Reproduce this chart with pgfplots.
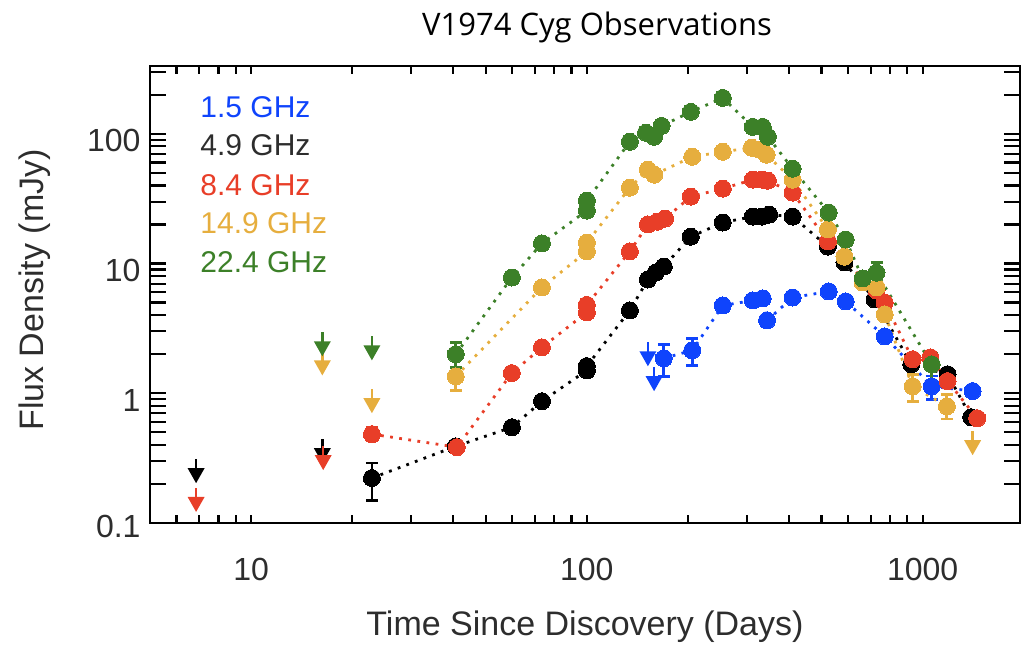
\documentclass[border=0pt]{standalone}
\usepackage{pgfplots}
\pgfplotsset{compat=1.18}
\usepackage{fontspec}
\setmainfont{Liberation Sans}
\newfontfamily\titlefont{Open Sans}
\definecolor{cblue}{RGB}{15,68,252}
\definecolor{cred}{RGB}{232,62,40}
\definecolor{cgold}{RGB}{230,174,62}
\definecolor{cgreen}{RGB}{60,128,40}
\definecolor{cblack}{RGB}{0,0,0}
\definecolor{labgray}{RGB}{45,45,45}
\pgfdeclareplotmark{ul}{%
  \pgfsetlinewidth{1.2pt}%
  \pgfpathmoveto{\pgfqpoint{0pt}{0pt}}%
  \pgfpathlineto{\pgfqpoint{0pt}{5pt}}%
  \pgfusepathqstroke
  \pgfpathmoveto{\pgfqpoint{-4.25pt}{0.5pt}}%
  \pgfpathlineto{\pgfqpoint{4.25pt}{0.5pt}}%
  \pgfpathlineto{\pgfqpoint{0pt}{-7pt}}%
  \pgfpathclose
  \pgfusepathqfill
}
\pgfplotsset{
  series/.style={color=#1, line width=1.4pt, dash pattern=on 1.4pt off 3.2pt,
    mark=*, mark size=4.25pt, mark options={solid, fill=#1, draw=#1, line width=0pt}},
  errs/.style={color=#1, only marks, mark=none,
    error bars/.cd, y dir=both, y explicit,
    error bar style={line width=1.4pt, solid, color=#1},
    error mark options={rotate=90, mark size=3pt, line width=1.4pt, color=#1}},
  uls/.style={color=#1, only marks, mark=ul, mark options={solid, fill=#1, draw=#1}},
}
\begin{document}
\begin{tikzpicture}
\begin{axis}[
  at={(0,0)}, anchor=south west,
  scale only axis, width=435pt, height=228.5pt,
  xmode=log, ymode=log,
  xmin=5, xmax=1950, ymin=0.1, ymax=333,
  axis line style={line width=1.4pt},
  tick align=inside,
  xtick={10,100,1000}, xticklabels={10,100,1000},
  minor xtick={6,7,8,9,20,30,40,50,60,70,80,90,200,300,400,500,600,700,800,900},
  ytick={0.1,1,10,100}, yticklabels={\raisebox{3.5pt}{0.1},1,10,100},
  minor ytick={},
  ytick style={draw=none},
  major tick length=4pt, minor tick length=4pt,
  every tick/.append style={black, line width=1.1pt},
  tick label style={font=\fontsize{16}{16}\selectfont, text=labgray},
  xticklabel style={yshift=-14pt},
  yticklabel style={xshift=-1.2pt, yshift=-3.5pt},
]
% 1.5 GHz
\addplot[series=cblue] coordinates {(169.5,1.86) (206,2.14) (254,4.75) (312,5.19) (334,5.38) (344,3.64) (410,5.47) (525,6.09) (590,5.10) (771,2.74) (1064,1.13) (1409,1.04)};
\addplot[errs=cblue] coordinates {(169.5,1.86) += (0,0.52) -= (0,0.51) (206,2.14) += (0,0.51) -= (0,0.50) (1064,1.13) += (0,0.23) -= (0,0.23)};
\addplot[uls=cblue] coordinates {(152,2.07) (158.6,1.33)};
% 4.9 GHz
\addplot[series=cblack] coordinates {(22.9,0.222) (40.7,0.39) (59.8,0.547) (73.5,0.868) (100,1.50) (100,1.62) (134.3,4.35) (152,7.53) (160.5,8.53) (169.5,9.48) (204,16.1) (254,20.7) (312,23.0) (332,23.0) (349,23.8) (410,23.0) (522,13.5) (585,10.2) (719,5.29) (925,1.67) (1186,1.40) (1395,0.654)};
\addplot[errs=cblack] coordinates {(22.9,0.222) += (0,0.068) -= (0,0.072)};
\addplot[uls=cblack] coordinates {(6.86,0.26) (16.3,0.371)};
% 8.4 GHz
\addplot[series=cred] coordinates {(22.9,0.484) (41,0.384) (59.8,1.43) (73.5,2.26) (100,4.2) (100,4.8) (134.3,12.4) (152,20) (162,21.0) (171,22.2) (204,32.8) (254,37.8) (312,44.3) (332,44.3) (346,43.5) (410,35.2) (522,14.8) (663,7.6) (729,6.2) (771,5.0) (934,1.83) (1055,1.89) (1186,1.24) (1454,0.642)};
\addplot[errs=cred] coordinates {(22.9,0.484) += (0,0.06) -= (0,0.05)};
\addplot[uls=cred] coordinates {(6.86,0.156) (16.4,0.328)};
% 14.9 GHz
\addplot[series=cgold] coordinates {(40.7,1.35) (73.5,6.54) (100,12.4) (100,14.5) (134.3,38.4) (152,52.9) (158.7,48.4) (206,66.5) (254,72.7) (310,78.0) (327,75.3) (343,68.9) (410,44.3) (522,18.3) (585,11.3) (663,7.14) (729,6.54) (771,4.05) (934,1.13) (1181,0.794)};
\addplot[errs=cgold] coordinates {(40.7,1.35) += (0,0.23) -= (0,0.30) (934,1.13) += (0,0.26) -= (0,0.26) (1181,0.794) += (0,0.19) -= (0,0.16)};
\addplot[uls=cgold] coordinates {(16.3,1.76) (22.9,0.90) (1409,0.427)};
% 22.4 GHz
\addplot[series=cgreen] coordinates {(40.7,2.0) (59.8,7.8) (73.5,14.3) (100,25.6) (100,30.5) (134.3,86.8) (150,101.8) (158.6,94.8) (167,115) (204,147.6) (254,189) (312,113) (334,113) (346,94.8) (410,53.8) (525,24.7) (590,15.3) (663,7.67) (729,8.5) (1064,1.67)};
\addplot[errs=cgreen] coordinates {(40.7,2.0) += (0,0.47) -= (0,0.42) (729,8.5) += (0,1.7) -= (0,1.4) (1064,1.67) += (0,0.35) -= (0,0.5)};
\addplot[uls=cgreen] coordinates {(16.3,2.47) (22.9,2.30)};
% legend text
\node[anchor=west, inner sep=0pt, text=cblue, font=\fontsize{15}{15}\selectfont] at (rel axis cs:0.0575,0.9103) {1.5 GHz};
\node[anchor=west, inner sep=0pt, text=labgray, font=\fontsize{15}{15}\selectfont] at (rel axis cs:0.0575,0.8271) {4.9 GHz};
\node[anchor=west, inner sep=0pt, text=cred, font=\fontsize{15}{15}\selectfont] at (rel axis cs:0.0575,0.7396) {8.4 GHz};
\node[anchor=west, inner sep=0pt, text=cgold, font=\fontsize{15}{15}\selectfont] at (rel axis cs:0.0575,0.6565) {14.9 GHz};
\node[anchor=west, inner sep=0pt, text=cgreen, font=\fontsize{15}{15}\selectfont] at (rel axis cs:0.0575,0.5711) {22.4 GHz};
\end{axis}
\begin{axis}[
  at={(0,0)}, anchor=south west,
  scale only axis, width=435pt, height=228.5pt,
  xmode=log, ymode=log,
  xmin=5, xmax=1950, ymin=0.1, ymax=333,
  axis line style={draw=none},
  tick align=inside,
  xtick=\empty, minor xtick={},
  ytick={0.1,1,10,100}, yticklabel={\relax},
  minor ytick={0.2,0.3,0.4,0.5,0.6,0.7,0.8,0.9,2,3,4,5,6,7,8,9,20,30,40,50,60,70,80,90,200,300},
  major tick length=8pt, minor tick length=8pt,
  every tick/.append style={black, line width=1.1pt},
]
\end{axis}
\node[font=\titlefont\fontsize{15.5}{18}\selectfont] at (223.5pt,248pt) {V1974 Cyg Observations};
\node[font=\fontsize{17}{20}\selectfont, text=labgray] at (217.5pt,-52pt) {Time Since Discovery (Days)};
\node[rotate=90, font=\fontsize{17}{20}\selectfont, text=labgray] at (-57.5pt,116.5pt) {Flux Density (mJy)};
\pgfresetboundingbox
\path[use as bounding box] (-75pt,-61.5pt) rectangle (437.5pt,261.5pt);
\end{tikzpicture}
\end{document}
